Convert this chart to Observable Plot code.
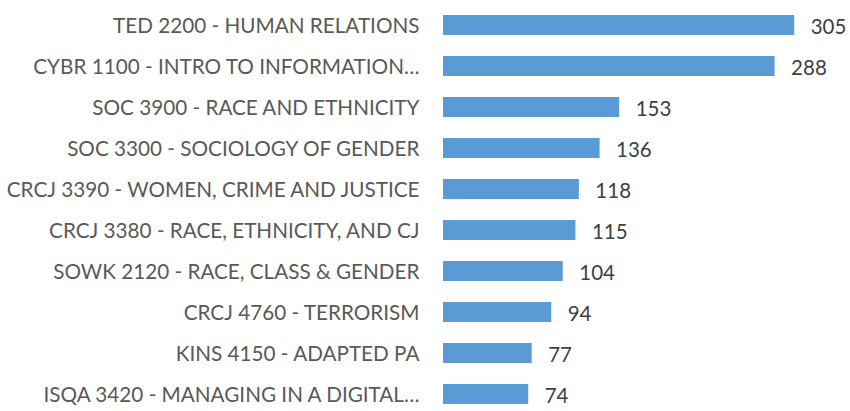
<!DOCTYPE html>
<html>
<head>
<meta charset="utf-8">
<script src="https://cdn.jsdelivr.net/npm/d3@7"></script>
<script src="https://cdn.jsdelivr.net/npm/@observablehq/plot@0.6"></script>
<style>
  body { margin: 0; background: #fff; overflow: hidden; }
  #chart svg { display: block; }
</style>
</head>
<body>
<div id="chart"></div>
<script>
const courses = [
  "TED 2200 - HUMAN RELATIONS",
  "CYBR 1100 - INTRO TO INFORMATION…",
  "SOC 3900 - RACE AND ETHNICITY",
  "SOC 3300 - SOCIOLOGY OF GENDER",
  "CRCJ 3390 - WOMEN, CRIME AND JUSTICE",
  "CRCJ 3380 - RACE, ETHNICITY, AND CJ",
  "SOWK 2120 - RACE, CLASS & GENDER",
  "CRCJ 4760 - TERRORISM",
  "KINS 4150 - ADAPTED PA",
  "ISQA 3420 - MANAGING IN A DIGITAL…"
];
const counts = [305, 288, 153, 136, 118, 115, 104, 94, 77, 74];

const data = courses.map((c, i) => ({course: c, count: counts[i]}));

const chart = Plot.plot({
  width: 850,
  height: 411,
  marginLeft: 443,
  marginRight: 4,
  marginTop: 1,
  marginBottom: -6,
  style: {fontFamily: "Lato, sans-serif", background: "#fff", color: "#595959", overflow: "hidden"},
  x: {domain: [0, 350], axis: null},
  y: {domain: courses, paddingInner: 0.52, paddingOuter: 0.26, label: null},
  marks: [
    Plot.barX(data, {x: "count", y: "course", fill: "#5b9bd5"}),
    Plot.ruleX([0], {stroke: "#d9d9d9", strokeWidth: 1.5, y1: 3, y2: 500}),
    Plot.axisY({tickSize: 0, tickPadding: 24, fontSize: 20.7, dy: 1, label: null}),
    Plot.text(data, {x: "count", y: "course", text: d => String(d.count), textAnchor: "start", dx: 16, dy: 1.5, fontSize: 20.5, fill: "#404040"})
  ]
});
document.getElementById("chart").appendChild(chart);
</script>
</body>
</html>
